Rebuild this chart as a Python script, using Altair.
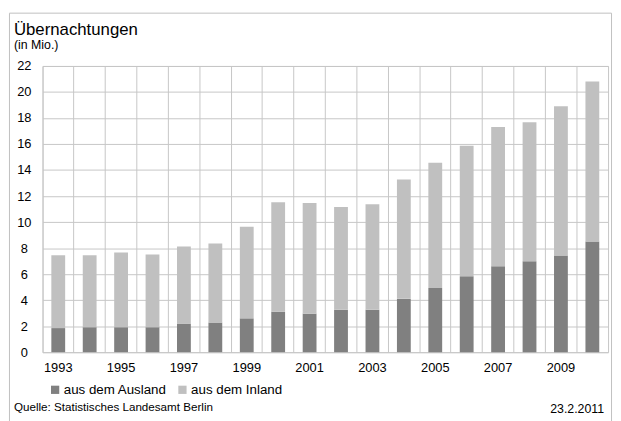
import altair as alt
import pandas as pd

years = list(range(1993, 2011))
ausland = [1.85, 1.92, 1.92, 1.92, 2.20, 2.28, 2.60, 3.11, 2.96, 3.26, 3.26, 4.10, 4.93, 5.84, 6.60, 6.98, 7.44, 8.50]
inland = [5.60, 5.53, 5.74, 5.59, 5.92, 6.07, 7.05, 8.42, 8.50, 7.90, 8.12, 9.18, 9.64, 10.02, 10.70, 10.70, 11.46, 12.30]
series = ["aus dem Ausland", "aus dem Inland"]
colors = ["#808080", "#c0c0c0"]
year_labels = [str(y) for y in range(1993, 2011, 2)]
y_ticks = list(range(0, 23, 2))

rows = []
for y, a, i in zip(years, ausland, inland):
    rows.append({"Jahr": str(y), "Herkunft": series[0], "Wert": a, "ord": 0})
    rows.append({"Jahr": str(y), "Herkunft": series[1], "Wert": i, "ord": 1})
df = pd.DataFrame(rows)

FONT = "Liberation Sans"
GRID = "#c6c6c6"

bars = alt.Chart(df).mark_bar(size=14).encode(
    x=alt.X("Jahr:N", sort=[str(y) for y in years],
            scale=alt.Scale(paddingInner=0, paddingOuter=0),
            axis=alt.Axis(title=None, grid=True, bandPosition=0, gridColor=GRID,
                          ticks=False, domain=False, labelAngle=0,
                          labelExpr="indexof(" + str(year_labels) + ", datum.label) >= 0 ? datum.label : ''",
                          labelPadding=10, labelFontSize=13, labelFont=FONT, labelColor="#000")),
    y=alt.Y("Wert:Q", stack="zero",
            scale=alt.Scale(domain=[0, 22], nice=False),
            axis=alt.Axis(title=None, values=y_ticks, grid=True, gridColor=GRID,
                          ticks=False, tickSize=0, domain=False, labelAlign="center",
                          labelPadding=19, labelFontSize=13, labelFont=FONT, labelColor="#000")),
    color=alt.Color("Herkunft:N", scale=alt.Scale(domain=series, range=colors),
                    legend=alt.Legend(title=None, orient="none", legendX=6, legendY=321,
                                      direction="horizontal", symbolType="square", symbolSize=70,
                                      symbolStrokeWidth=0, labelOffset=2, columnPadding=9,
                                      labelFontSize=13.5, labelFont=FONT, labelColor="#000")),
    order=alt.Order("ord:Q", sort="ascending"),
)

def txt(s, x, y, size, align="left"):
    return alt.Chart(pd.DataFrame({"t": [s]})).mark_text(
        align=align, baseline="alphabetic", fontSize=size, font=FONT, color="#000"
    ).encode(x=alt.value(x), y=alt.value(y), text="t:N")

border = alt.Chart(pd.DataFrame({"a": [0]})).mark_rect(
    fill=None, stroke="#c0c0c0", strokeWidth=1
).encode(x=alt.value(-33.5), x2=alt.value(576.5), y=alt.value(-53.5), y2=alt.value(420))

chart = alt.layer(
    border,
    bars,
    txt("Übernachtungen", -29, -31.5, 17),
    txt("(in Mio.)", -29, -17, 12.5),
    txt("Quelle: Statistisches Landesamt Berlin", -29, 350, 11.8),
    txt("23.2.2011", 569, 352, 12.5, align="right"),
).properties(
    width=573, height=290,
    padding={"left": 35, "top": 56, "right": 5, "bottom": 67},
    autosize="none",
).configure_view(stroke=GRID, strokeWidth=1)

chart.save("out.html", embed_options={"renderer": "svg", "actions": False})
